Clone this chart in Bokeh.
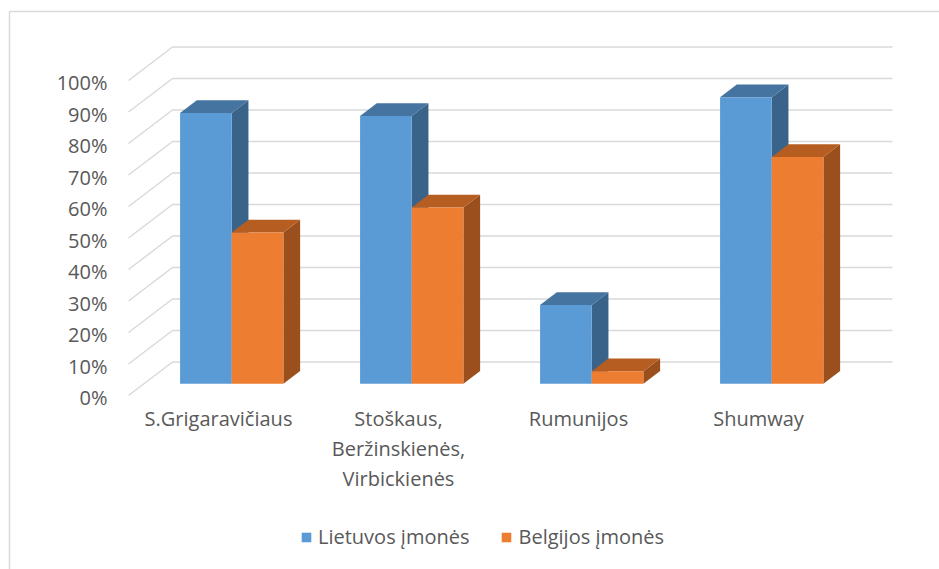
from bokeh.plotting import figure
from bokeh.models import (ColumnDataSource, Legend, LegendItem, LinearAxis,
                          Range1d, FixedTicker)
from bokeh.core.properties import value
from bokeh.embed import file_html
from bokeh.resources import INLINE

# ---------------- data ----------------
categories = ["S.Grigaravičiaus",
              "Stoškaus,\nBeržinskienės,\nVirbickienės",
              "Rumunijos",
              "Shumway"]
series_names = ["Lietuvos įmonės", "Belgijos įmonės"]
lietuvos = [86, 85, 25, 91]
belgijos = [48, 56, 4, 72]
y_ticks = [0, 10, 20, 30, 40, 50, 60, 70, 80, 90, 100]
y_tick_labels = ["0%", "10%", "20%", "30%", "40%", "50%",
                 "60%", "70%", "80%", "90%", "100%"]

# ---------------- layout / style ----------------
W, H = 939, 569
FRAME_L, FRAME_T = 9, 11
X0_PX, CAT_PX = 128, 180.0        # front-left floor corner, px per category
Y0_PX, PCT_PX = 395, 3.15         # front 0% line, px per percent
DX = 44 / CAT_PX                  # full depth offset (data units)
DY = 33.5 / PCT_PX
Z0, Z1 = 0.35, 0.73               # bar depth (fraction of wall depth)
BW = 0.287                        # bar width (category units)
BAR_SHIFT = -0.012                # small offset of bar pair from category centre

front_cols = ["#5B9BD5", "#ED7D31"]
top_cols = ["#4574A1", "#B65E22"]
side_cols = ["#3A6389", "#9A4F1D"]
grid_col = "#D9D9D9"
text_col = "#595959"
FONT_NAME = "Open Sans"
FONT = value(FONT_NAME)
FS = "20px"

x_range = Range1d((FRAME_L - X0_PX) / CAT_PX, (W - X0_PX) / CAT_PX)
y_range = Range1d((Y0_PX - H) / PCT_PX, (Y0_PX - FRAME_T) / PCT_PX)

p = figure(width=W, height=H, x_range=x_range, y_range=y_range,
           output_backend="svg", toolbar_location=None,
           x_axis_type=None, y_axis_type=None,
           min_border_left=FRAME_L, min_border_top=FRAME_T,
           min_border_right=0, min_border_bottom=0)
p.outline_line_color = None
p.background_fill_color = "white"
p.border_fill_color = "white"

# chart-area border (top and left edges) drawn by empty axes
for loc in ("left", "above"):
    ax = LinearAxis(ticker=FixedTicker(ticks=[]))
    ax.axis_line_color = grid_col
    ax.axis_line_width = 1.5
    ax.major_tick_line_color = None
    ax.minor_tick_line_color = None
    ax.major_tick_out = 0
    ax.major_label_standoff = 0
    ax.major_label_text_font_size = "0px"
    p.add_layout(ax, loc)

# ---------------- gridlines (3D walls) ----------------
n = len(categories)
gx, gy = [], []
for t in y_ticks:
    gx.append([0, DX, n + DX])
    gy.append([t, t + DY, t + DY])
p.multi_line(xs=gx, ys=gy, line_color=grid_col, line_width=1.5)

# y tick labels at the front edge
p.text(x=[0] * len(y_ticks), y=y_ticks, text=y_tick_labels,
       x_offset=-21, y_offset=2, text_align="right", text_baseline="middle",
       text_font=FONT, text_font_size=FS, text_color=text_col)

# category labels
p.text(x=[i + 0.5 for i in range(n)], y=[0] * n, text=categories,
       y_offset=9, text_align="center", text_baseline="top",
       text_line_height=1.12,
       text_font=FONT, text_font_size=FS, text_color=text_col)

# ---------------- 3D bars ----------------
legend_items = []
for s, vals in enumerate([lietuvos, belgijos]):
    left, right, top, bottom = [], [], [], []
    txs, tys, sxs, sys_ = [], [], [], []
    for i, v in enumerate(vals):
        x0 = i + 0.5 + BAR_SHIFT - BW + s * BW
        x1 = x0 + BW
        left.append(x0 + Z0 * DX)
        right.append(x1 + Z0 * DX)
        bottom.append(Z0 * DY)
        top.append(v + Z0 * DY)
        txs.append([x0 + Z0 * DX, x1 + Z0 * DX, x1 + Z1 * DX, x0 + Z1 * DX])
        tys.append([v + Z0 * DY, v + Z0 * DY, v + Z1 * DY, v + Z1 * DY])
        sxs.append([x1 + Z0 * DX, x1 + Z1 * DX, x1 + Z1 * DX, x1 + Z0 * DX])
        sys_.append([Z0 * DY, Z1 * DY, v + Z1 * DY, v + Z0 * DY])
    p.patches(xs=sxs, ys=sys_, fill_color=side_cols[s], line_color=None)
    p.patches(xs=txs, ys=tys, fill_color=top_cols[s], line_color=None)
    r = p.quad(left=left, right=right, top=top, bottom=bottom,
               fill_color=front_cols[s], line_color=None)
    legend_items.append(LegendItem(label=series_names[s], renderers=[r]))

legend = Legend(items=legend_items, orientation="horizontal",
                location=(291, 19), glyph_width=12, glyph_height=12,
                label_standoff=6, spacing=31, padding=0, margin=0,
                border_line_color=None, background_fill_alpha=0,
                label_text_font=FONT_NAME, label_text_font_size=FS,
                label_text_color=text_col)
p.add_layout(legend)

open("out.html", "w").write(file_html(p, INLINE))
